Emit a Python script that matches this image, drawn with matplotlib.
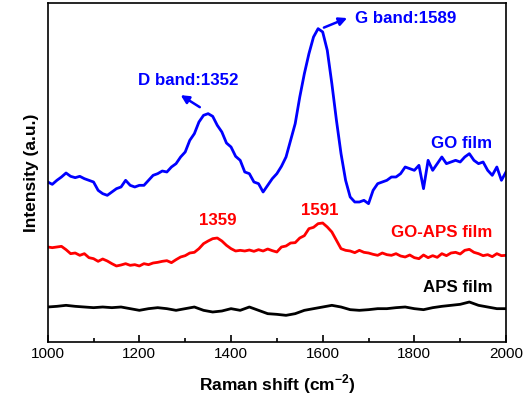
import numpy as np
import matplotlib
matplotlib.use("Agg")
import matplotlib.pyplot as plt
from matplotlib.ticker import MultipleLocator

plt.rcParams["font.family"] = ["Liberation Sans", "DejaVu Sans"]
plt.rcParams["mathtext.fontset"] = "custom"
plt.rcParams["mathtext.rm"] = "Liberation Sans"
plt.rcParams["mathtext.bf"] = "Liberation Sans:bold"

# Raman shift (cm-1)
shift = np.arange(1000, 2001, 10)

# GO film (a.u.)
go = 1025 - np.array([
    545, 552, 540, 530, 518, 528, 532, 528, 535, 540,
    545, 570, 580, 585, 575, 565, 560, 540, 555, 560,
    555, 555, 540, 525, 520, 512, 515, 500, 490, 470,
    455, 420, 400, 365, 345, 340, 348, 375, 395, 428,
    440, 468, 480, 515, 520, 545, 550, 575, 555, 535,
    520, 498, 470, 420, 370, 290, 220, 160, 110, 85,
    95, 150, 250, 360, 460, 540, 590, 605, 605, 600,
    610, 570, 550, 545, 540, 530, 530, 520, 500, 505,
    510, 495, 565, 480, 510, 490, 470, 490, 485, 480,
    485, 470, 460, 480, 490, 485, 510, 525, 500, 540,
    515])

# GO-APS film
go_aps = 1025 - np.array([
    740, 742, 740, 738, 748, 760, 758, 765, 760, 772,
    775, 783, 776, 782, 790, 797, 794, 790, 795, 793,
    797, 790, 793, 788, 786, 783, 781, 787, 778, 770,
    766, 758, 756, 745, 730, 722, 715, 713, 722, 735,
    745, 752, 750, 752, 749, 753, 748, 752, 746, 751,
    755, 740, 737, 728, 727, 713, 706, 685, 681, 670,
    668, 680, 695, 720, 745, 750, 752, 757, 750, 756,
    758, 762, 765, 758, 763, 765, 760, 767, 770, 764,
    772, 775, 764, 772, 766, 771, 760, 766, 758, 756,
    761, 750, 747, 756, 760, 766, 763, 769, 760, 766,
    765])

# APS film
shift_aps = np.arange(1000, 2001, 20)
aps = 1025 - np.array([
    920, 918, 915, 918, 920, 922, 920, 922, 920, 925,
    930, 925, 922, 925, 930, 925, 920, 930, 935, 932,
    925, 930, 920, 930, 940, 942, 945, 940, 930, 925,
    920, 915, 920, 928, 930, 928, 925, 925, 922, 920,
    925, 928, 922, 918, 915, 912, 905, 915, 920, 925,
    925])

fig = plt.figure(figsize=(5.26, 3.98), dpi=100)
ax = fig.add_axes([0.0907, 0.1407, 0.8713, 0.8518])

ax.plot(shift, go, color="#0000ff", lw=2)
ax.plot(shift, go_aps, color="#ff0000", lw=2)
ax.plot(shift_aps, aps, color="black", lw=2)

bold = dict(fontweight="bold", fontsize=12.2)
ax.text(1307, 785, "D band:1352", color="#0000ff", ha="center", va="center", **bold)
ax.text(1780, 970, "G band:1589", color="#0000ff", ha="center", va="center", **bold)
ax.annotate("", xy=(1285, 745), xytext=(1337, 700),
            arrowprops=dict(arrowstyle="-|>", color="#0000ff", lw=1.8, mutation_scale=12))
ax.annotate("", xy=(1659, 975), xytext=(1597, 940),
            arrowprops=dict(arrowstyle="-|>", color="#0000ff", lw=1.8, mutation_scale=12))
ax.text(1970, 595, "GO film", color="#0000ff", ha="right", va="center", **bold)
ax.text(1372, 363, "1359", color="#ff0000", ha="center", va="center", **bold)
ax.text(1594, 395, "1591", color="#ff0000", ha="center", va="center", **bold)
ax.text(1970, 328, "GO-APS film", color="#ff0000", ha="right", va="center", **bold)
ax.text(1970, 163, "APS film", color="black", ha="right", va="center", **bold)

ax.set_xlim(1000, 2000)
ax.set_ylim(0, 1017)
ax.xaxis.set_major_locator(MultipleLocator(200))
ax.xaxis.set_minor_locator(MultipleLocator(100))
ax.tick_params(axis="x", which="both", direction="in", labelsize=11, top=False)
ax.tick_params(axis="x", which="major", length=5, width=1.2)
ax.tick_params(axis="x", which="minor", length=3, width=1.2)
ax.set_yticks([])
for s in ax.spines.values():
    s.set_linewidth(1.2)

ax.set_xlabel(r"Raman shift (cm$^{\mathbf{-2}}$)", fontsize=12.5, fontweight="bold", labelpad=8)
ax.set_ylabel("Intensity (a.u.)", fontsize=12.5, fontweight="bold", labelpad=6)

fig.savefig("out.png", dpi=100)
